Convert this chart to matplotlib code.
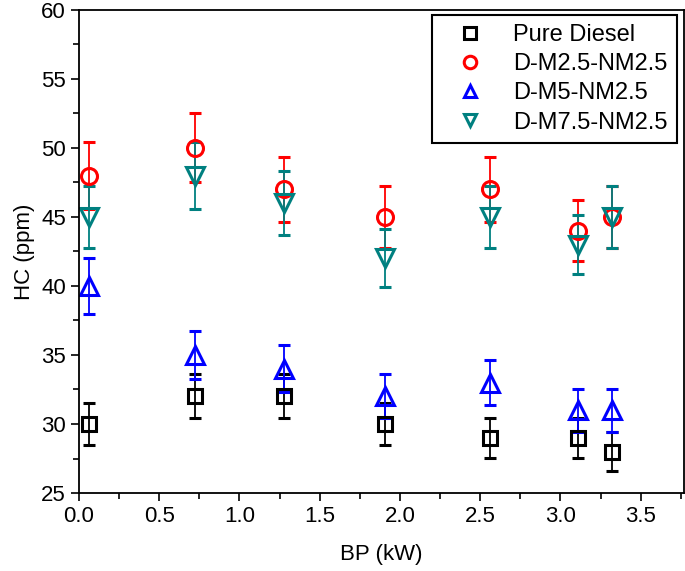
import numpy as np
import matplotlib.pyplot as plt
from matplotlib.lines import Line2D
from matplotlib.ticker import MultipleLocator

plt.rcParams['font.family'] = ['Liberation Sans', 'DejaVu Sans']

# --- data ---
bp = [0.06, 0.72, 1.28, 1.91, 2.56, 3.11, 3.32]

hc_diesel = [30, 32, 32, 30, 29, 29, 28]
err_diesel = [1.5, 1.6, 1.6, 1.5, 1.45, 1.45, 1.4]

hc_m25 = [48, 50, 47, 45, 47, 44, 45]
err_m25 = [2.4, 2.5, 2.35, 2.25, 2.35, 2.2, 2.25]

hc_m5 = [40, 35, 34, 32, 33, 31, 31]
err_m5 = [2.0, 1.75, 1.7, 1.6, 1.65, 1.55, 1.55]

hc_m75 = [45, 48, 46, 42, 45, 43, 45]
err_m75 = [2.25, 2.4, 2.3, 2.1, 2.25, 2.15, 2.25]

labels = ['Pure Diesel', 'D-M2.5-NM2.5', 'D-M5-NM2.5', 'D-M7.5-NM2.5']
colors = ['black', '#ff0000', '#0000ff', '#008080']
markers = ['s', 'o', '^', 'v']
sizes = [10, 11.5, 13, 13]

fig = plt.figure(figsize=(6.85, 5.71), dpi=100)
ax = fig.add_axes([0.1153, 0.1366, 0.8832, 0.8459])

series = [(hc_diesel, err_diesel), (hc_m25, err_m25), (hc_m5, err_m5), (hc_m75, err_m75)]
for (y, e), c, m, s in zip(series, colors, markers, sizes):
    ax.errorbar(bp, y, yerr=e, fmt=m, color=c, ecolor=c, elinewidth=1.3,
                capsize=4, capthick=1.3, markersize=s, markeredgewidth=2.2,
                markerfacecolor='none', markeredgecolor=c)

ax.set_xlim(0, 3.77)
ax.set_ylim(25, 60)
ax.xaxis.set_major_locator(MultipleLocator(0.5))
ax.xaxis.set_minor_locator(MultipleLocator(0.25))
ax.yaxis.set_major_locator(MultipleLocator(5))
ax.yaxis.set_minor_locator(MultipleLocator(2.5))
ax.xaxis.set_major_formatter(plt.FormatStrFormatter('%.1f'))
ax.tick_params(which='major', direction='out', length=6, width=1.2, labelsize=16)
ax.tick_params(which='minor', direction='out', length=4, width=1.2)
for sp in ax.spines.values():
    sp.set_linewidth(1.3)

ax.set_xlabel('BP (kW)', fontsize=16, labelpad=12)
ax.set_ylabel('HC (ppm)', fontsize=16, labelpad=4)

handles = [Line2D([], [], linestyle='none', marker=m, markersize=9,
                  markeredgewidth=2.2, markerfacecolor='none', markeredgecolor=c)
           for c, m in zip(colors, markers)]
leg = ax.legend(handles, labels, loc='upper right', fontsize=17, fancybox=False,
                edgecolor='black', framealpha=1, handletextpad=0.6, handlelength=2.4,
                borderpad=0.4, labelspacing=0.3, borderaxespad=0,
                bbox_to_anchor=(0.988, 0.99))
leg.get_frame().set_linewidth(1.5)

fig.savefig('out.png', dpi=100)
